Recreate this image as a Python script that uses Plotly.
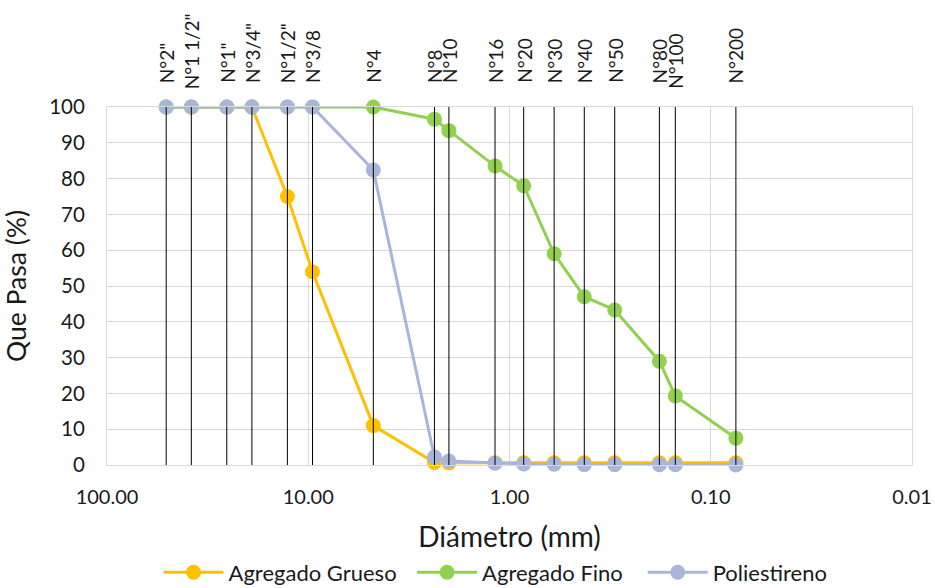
import numpy as np
import plotly.graph_objects as go

# ---- data ----
sieve_labels = ['N°2"', 'N°1 1/2"', 'N°1"', 'N°3/4"', 'N°1/2"', 'N°3/8', 'N°4', 'N°8', 'N°10',
                'N°16', 'N°20', 'N°30', 'N°40', 'N°50', 'N°80', 'N°100', 'N°200']
sieve_mm = [50.8, 38.1, 25.4, 19.05, 12.7, 9.525, 4.75, 2.36, 2.0,
            1.18, 0.85, 0.6, 0.425, 0.3, 0.18, 0.15, 0.075]
grueso = [100, 100, 100, 100, 75, 54, 11, 0.7, 0.6,
          0.6, 0.6, 0.6, 0.6, 0.6, 0.6, 0.6, 0.6]
fino = [100, 100, 100, 100, 100, 100, 100, 96.6, 93.4,
        83.5, 78, 59, 47, 43.3, 29, 19.3, 7.5]
poli = [100, 100, 100, 100, 100, 100, 82.4, 2.2, 1.1,
        0.5, 0.3, 0.2, 0.1, 0.1, 0.1, 0.1, 0.0]
x_tickvals = [100, 10, 1, 0.1, 0.01]
x_ticktext = ["100.00", "10.00", "1.00", "0.10", "0.01"]
y_tickvals = [0, 10, 20, 30, 40, 50, 60, 70, 80, 90, 100]

FONT = "Lato"
TXT = "#1a1a1a"
GRID = "#D9D9D9"

fig = go.Figure()

series = [("Agregado Grueso", grueso, "#FFC000", "legend", 0.064),
          ("Agregado Fino", fino, "#92D050", "legend2", 0.379),
          ("Poliestireno", poli, "#A8B6DB", "legend3", 0.6655)]
legend_defs = {}
for name, vals, col, lg, lx in series:
    fig.add_trace(go.Scatter(
        x=sieve_mm, y=vals, name=name, mode="lines+markers",
        line=dict(color=col, width=3),
        marker=dict(color=col, size=15),
        cliponaxis=False, legend=lg,
    ))
    legend_defs[lg] = dict(orientation="h", x=lx, xanchor="left", y=-0.30, yanchor="middle",
                           bgcolor="rgba(0,0,0,0)", itemwidth=60,
                           font=dict(family=FONT, size=22, color=TXT))

# vertical sieve lines
vx, vy = [], []
for d in sieve_mm:
    vx += [d, d, None]
    vy += [0, 100, None]
fig.add_trace(go.Scatter(x=vx, y=vy, mode="lines", line=dict(color="#000000", width=1),
                         showlegend=False, hoverinfo="skip"))

# sieve labels above plot
lowered = {'N°1 1/2"', 'N°100'}
for lab, d in zip(sieve_labels, sieve_mm):
    fig.add_annotation(
        x=np.log10(d), y=1, xref="x", yref="paper",
        text=lab, textangle=-90, showarrow=False,
        xanchor="center", yanchor="bottom",
        yshift=22 - (6 if lab in lowered else 0),
        font=dict(family=FONT, size=19, color=TXT),
    )

fig.update_layout(
    width=935, height=588,
    margin=dict(l=107, r=23, t=107, b=123, autoexpand=False),
    paper_bgcolor="white", plot_bgcolor="white",
    font=dict(family=FONT, color=TXT),
    showlegend=True,
    **legend_defs,
    xaxis=dict(
        type="log", range=[2, -2],
        tickvals=x_tickvals, ticktext=x_ticktext,
        showgrid=True, gridcolor=GRID, gridwidth=1,
        showline=True, linecolor=GRID, mirror=True, ticks="",
        tickfont=dict(family=FONT, size=20, color=TXT),
        ticklabelstandoff=14,
        title=dict(text="Diámetro (mm)", font=dict(family=FONT, size=28, color=TXT), standoff=20),
        zeroline=False, automargin=False,
    ),
    yaxis=dict(
        range=[0, 100], tickvals=y_tickvals,
        showgrid=True, gridcolor=GRID, gridwidth=1,
        showline=True, linecolor=GRID, mirror=True, ticks="",
        tickfont=dict(family=FONT, size=20.5, color=TXT),
        ticklabelstandoff=17,
        title=dict(text="Que Pasa (%)", font=dict(family=FONT, size=26.5, color=TXT), standoff=14),
        zeroline=False, automargin=False,
    ),
)

fig.write_html("out.html")
